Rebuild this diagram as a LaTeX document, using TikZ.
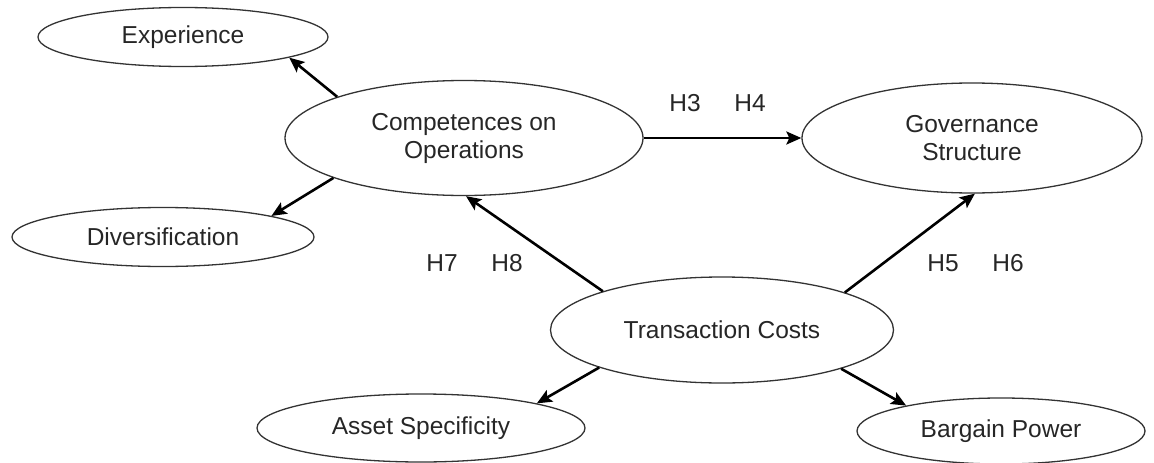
\documentclass[tikz,border=0pt]{standalone}
\usepackage{fontspec}
\setmainfont{Liberation Sans}
\usetikzlibrary{shapes.geometric,arrows.meta}
\tikzset{
  ell/.style={ellipse, draw=black!80, line width=1.3pt, inner sep=0pt,
    align=center, font=\fontsize{24.5}{28}\selectfont, text=black!85},
  arr/.style={line width=2.6pt, draw=black, -{Stealth[length=15pt,width=13pt,inset=3pt]}},
  hlab/.style={font=\fontsize{24.5}{28}\selectfont, text=black!85, inner sep=0pt}
}
\begin{document}
\begin{tikzpicture}[x=1pt,y=-1pt]
\useasboundingbox (0,0) rectangle (1154,463);
\node[ell, minimum width=290pt, minimum height=59pt] (exp) at (183,37) {Experience};
\node[ell, minimum width=302pt, minimum height=59pt] (div) at (163,237) {Diversification};
\node[ell, minimum width=358pt, minimum height=115pt] (comp) at (464,138) {Competences on\\Operations};
\node[ell, minimum width=340pt, minimum height=110pt] (gov) at (972,138) {Governance\\Structure};
\node[ell, minimum width=343pt, minimum height=106pt] (tc) at (722,330) {Transaction Costs};
\node[ell, minimum width=328pt, minimum height=68pt] (asset) at (421,428) {Asset Specificity};
\node[ell, minimum width=288pt, minimum height=66pt] (barg) at (1001,431) {Bargain Power};

\node[hlab] (h3) at (685,103) {H3};
\node[hlab] (h4) at (750,103) {H4};
\node[hlab] (h7) at (442,263) {H7};
\node[hlab] (h8) at (507,263) {H8};
\node[hlab] (h5) at (943,263) {H5};
\node[hlab] (h6) at (1008,263) {H6};

\draw[arr] (comp.162) -- (exp.-11);
\draw[arr] (comp.197.5) -- (div.11);
\draw[arr] (comp.east) -- (gov.west);
\draw[arr] (tc.162.6) -- (comp.272);
\draw[arr] (tc.17.4) -- (gov.273);
\draw[arr] (tc.197.4) -- (asset.12);
\draw[arr] (tc.342.6) -- (barg.165);
\end{tikzpicture}
\end{document}
